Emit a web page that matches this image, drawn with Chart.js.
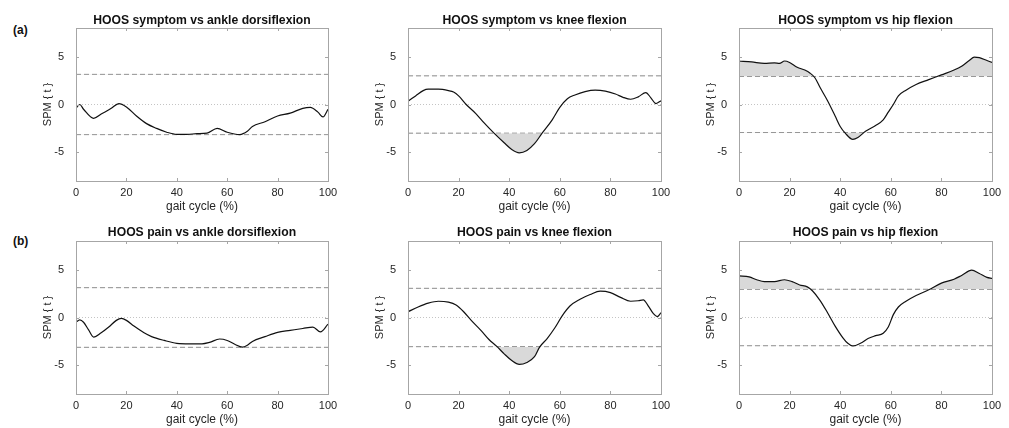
<!DOCTYPE html>
<html>
<head>
<meta charset="utf-8">
<script src="https://cdn.jsdelivr.net/npm/chart.js@4/dist/chart.umd.min.js"></script>
<style>
  body { margin: 0; background: #fff; width: 1009px; height: 428px; position: relative; overflow: hidden;
         font-family: "Liberation Sans", Arial, sans-serif; }
  .panel { position: absolute; }
  .title { position: absolute; font-weight: bold; font-size: 12.2px; color: #111; white-space: nowrap;
           transform: translate(-50%, -50%); }
  .tag { position: absolute; font-weight: bold; font-size: 12px; color: #111; transform: translateY(-50%); }
</style>
</head>
<body>
<script>
// ── Data ────────────────────────────────────────────────────────────────
const xTicks = [0, 20, 40, 60, 80, 100];
const yTicks = [-5, 0, 5];

const titles = [
  'HOOS symptom vs ankle dorsiflexion',
  'HOOS symptom vs knee flexion',
  'HOOS symptom vs hip flexion',
  'HOOS pain vs ankle dorsiflexion',
  'HOOS pain vs knee flexion',
  'HOOS pain vs hip flexion'
];
const rowTags = ['(a)', '(b)'];

// critical thresholds (±)
const thresholds = [3.15, 3.0, 2.93, 3.12, 3.05, 2.95];

const symAnkleT = [0, 1.5, 3, 7, 10, 14, 17, 20, 24, 28, 32, 36, 40, 44, 48, 52, 56, 60, 65, 68, 70, 75, 80, 85, 90, 93, 96, 98, 100];
const symAnkleV = [-0.4, 0, -0.5, -1.45, -1.0, -0.4, 0.1, -0.25, -1.2, -2.0, -2.5, -2.9, -3.12, -3.12, -3.05, -3.0, -2.5, -2.9, -3.14, -2.8, -2.3, -1.8, -1.2, -0.9, -0.4, -0.3, -0.8, -1.3, -0.5];

const symKneeT = [0, 3, 6, 8, 12, 16, 18, 20, 23, 27, 30, 34, 38, 41, 44, 47, 50, 53, 57, 60, 63, 66, 70, 74, 78, 82, 85, 88, 91, 94, 96, 98, 100];
const symKneeV = [0.35, 0.9, 1.45, 1.6, 1.6, 1.45, 1.3, 0.9, 0, -1.0, -1.9, -3.0, -4.0, -4.7, -5.05, -4.8, -4.1, -3.0, -1.6, -0.3, 0.6, 1.0, 1.35, 1.5, 1.4, 1.1, 0.75, 0.55, 0.8, 1.25, 0.7, 0.1, 0.4];

const symHipT = [0, 5, 10, 14, 16, 18, 20, 23, 26, 28, 30, 32, 35, 38, 40, 42, 45, 47, 50, 54, 57, 59, 61, 63, 66, 70, 75, 80, 85, 88, 91, 93, 95, 98, 100];
const symHipV = [4.55, 4.45, 4.3, 4.35, 4.3, 4.55, 4.4, 3.9, 3.6, 3.3, 2.8, 1.8, 0.4, -1.2, -2.3, -3.0, -3.65, -3.45, -2.8, -2.2, -1.6, -0.8, 0, 0.9, 1.5, 2.1, 2.6, 3.1, 3.6, 4.0, 4.6, 4.95, 4.9, 4.6, 4.4];

const painAnkleT = [0, 1.5, 3, 5, 7, 10, 13, 16, 18, 20, 23, 27, 30, 35, 40, 45, 50, 53, 57, 60, 63, 66, 68, 70, 75, 80, 85, 90, 94, 97, 100];
const painAnkleV = [-0.5, -0.25, -0.5, -1.3, -2.05, -1.6, -1.0, -0.3, -0.1, -0.3, -0.9, -1.6, -2.0, -2.4, -2.7, -2.75, -2.75, -2.6, -2.25, -2.4, -2.8, -3.1, -2.9, -2.5, -2.0, -1.55, -1.35, -1.15, -1.0, -1.5, -0.7];

const painKneeT = [0, 4, 8, 12, 16, 19, 22, 25, 29, 32, 35, 38, 41, 44, 47, 50, 52, 55, 58, 61, 64, 68, 72, 76, 80, 84, 88, 91, 93, 95, 97, 98.5, 100];
const painKneeV = [0.6, 1.1, 1.5, 1.7, 1.6, 1.3, 0.6, -0.3, -1.4, -2.3, -3.0, -3.8, -4.5, -4.9, -4.7, -4.1, -3.1, -2.2, -1.1, 0.2, 1.2, 1.9, 2.4, 2.75, 2.6, 2.1, 1.7, 1.75, 1.85, 1.2, 0.4, 0.1, 0.5];

const painHipT = [0, 4, 7, 10, 14, 18, 21, 24, 27, 29, 32, 35, 38, 41, 43, 45, 48, 51, 54, 57, 59, 61, 63, 66, 70, 75, 80, 85, 88, 92, 95, 98, 100];
const painHipV = [4.35, 4.25, 3.95, 3.75, 3.75, 3.95, 3.75, 3.4, 3.2, 2.8, 1.8, 0.5, -0.9, -2.1, -2.7, -2.98, -2.7, -2.2, -1.9, -1.65, -1.0, 0.3, 1.1, 1.7, 2.3, 2.9, 3.6, 4.0, 4.4, 4.95, 4.6, 4.2, 4.1];

const seriesT = [symAnkleT, symKneeT, symHipT, painAnkleT, painKneeT, painHipT];
const seriesV = [symAnkleV, symKneeV, symHipV, painAnkleV, painKneeV, painHipV];

// ── Layout ──────────────────────────────────────────────────────────────
const plotLeft = [76, 408, 739];
const plotRight = [328, 661, 992];
const plotTop = [28, 241];
const plotBottom = [181, 394];
const titleY = [19.5, 231.5];
const tagY = [30, 241];

const FONT = '"Liberation Sans", Arial, sans-serif';
const SHADE = '#d9d9d9';
const NONE = 'rgba(0,0,0,0)';

// box + inward ticks, MATLAB style
const boxPlugin = {
  id: 'box',
  afterDatasetsDraw(chart) {
    const { ctx, chartArea: a, scales } = chart;
    ctx.save();
    ctx.strokeStyle = '#a6a6a6';
    ctx.lineWidth = 1;
    ctx.strokeRect(Math.round(a.left) + 0.5, Math.round(a.top) + 0.5,
                   Math.round(a.right - a.left), Math.round(a.bottom - a.top));
    ctx.beginPath();
    xTicks.forEach(v => {
      const px = Math.round(scales.x.getPixelForValue(v)) + 0.5;
      ctx.moveTo(px, a.top); ctx.lineTo(px, a.top + 3);
      ctx.moveTo(px, a.bottom); ctx.lineTo(px, a.bottom - 3);
    });
    yTicks.forEach(v => {
      const py = Math.round(scales.y.getPixelForValue(v)) + 0.5;
      ctx.moveTo(a.left, py); ctx.lineTo(a.left + 3, py);
      ctx.moveTo(a.right, py); ctx.lineTo(a.right - 3, py);
    });
    ctx.stroke();
    ctx.restore();
  }
};

function flatLine(y, color, dash) {
  return {
    data: [{ x: 0, y }, { x: 100, y }],
    borderColor: color, borderDash: dash, borderWidth: 1,
    pointRadius: 0, fill: false, order: 2
  };
}

function makePanel(i) {
  const row = Math.floor(i / 3), col = i % 3;
  const L = plotLeft[col], R = plotRight[col], T = plotTop[row], B = plotBottom[row];
  const yW = 35, xH = 33, padT = 6, padR = 14;

  const div = document.createElement('div');
  div.className = 'panel';
  Object.assign(div.style, {
    left: (L - yW) + 'px', top: (T - padT) + 'px',
    width: (R - L + yW + padR) + 'px', height: (B - T + padT + xH) + 'px'
  });
  const canvas = document.createElement('canvas');
  div.appendChild(canvas);
  document.body.appendChild(div);

  const title = document.createElement('div');
  title.className = 'title';
  title.textContent = titles[i];
  title.style.left = ((L + R) / 2) + 'px';
  title.style.top = titleY[row] + 'px';
  document.body.appendChild(title);

  const th = thresholds[i];
  const pts = seriesT[i].map((x, k) => ({ x, y: seriesV[i][k] }));

  new Chart(canvas, {
    type: 'line',
    data: {
      datasets: [
        { data: pts, borderColor: '#111', borderWidth: 1.2, pointRadius: 0,
          cubicInterpolationMode: 'monotone',
          fill: { target: { value: th }, above: SHADE, below: NONE }, order: 0 },
        { data: pts, borderColor: NONE, borderWidth: 1, pointRadius: 0,
          cubicInterpolationMode: 'monotone',
          fill: { target: { value: -th }, above: NONE, below: SHADE }, order: 1 },
        flatLine(th, '#7f7f7f', [5, 3]),
        flatLine(-th, '#7f7f7f', [5, 3]),
        flatLine(0, '#c4c4c4', [1, 2])
      ]
    },
    options: {
      responsive: true, maintainAspectRatio: false, animation: false,
      layout: { padding: { top: padT, right: padR, left: 0, bottom: 0 } },
      plugins: { legend: { display: false }, tooltip: { enabled: false } },
      scales: {
        x: {
          type: 'linear', min: 0, max: 100,
          afterBuildTicks: s => { s.ticks = xTicks.map(v => ({ value: v })); },
          afterFit: s => { s.height = xH; s.paddingLeft = 0; s.paddingRight = 0; },
          grid: { display: false, drawTicks: false }, border: { display: false },
          ticks: { color: '#262626', font: { family: FONT, size: 11 }, padding: 5, maxRotation: 0,
                   callback: v => String(v) },
          title: { display: true, text: 'gait cycle (%)', color: '#262626',
                   font: { family: FONT, size: 12 }, padding: 0 }
        },
        y: {
          min: -8, max: 8,
          afterBuildTicks: s => { s.ticks = yTicks.map(v => ({ value: v })); },
          afterFit: s => { s.width = yW; s.paddingTop = 0; s.paddingBottom = 0; },
          grid: { display: false, drawTicks: false }, border: { display: false },
          ticks: { color: '#262626', font: { family: FONT, size: 11 }, padding: 12,
                   callback: v => String(v) },
          title: { display: true, text: 'SPM { t }', color: '#262626',
                   font: { family: FONT, size: 11 }, padding: 0 }
        }
      }
    },
    plugins: [boxPlugin]
  });
}

rowTags.forEach((t, r) => {
  const el = document.createElement('div');
  el.className = 'tag';
  el.textContent = t;
  el.style.left = '13px';
  el.style.top = tagY[r] + 'px';
  document.body.appendChild(el);
});

for (let i = 0; i < 6; i++) makePanel(i);
</script>
</body>
</html>
